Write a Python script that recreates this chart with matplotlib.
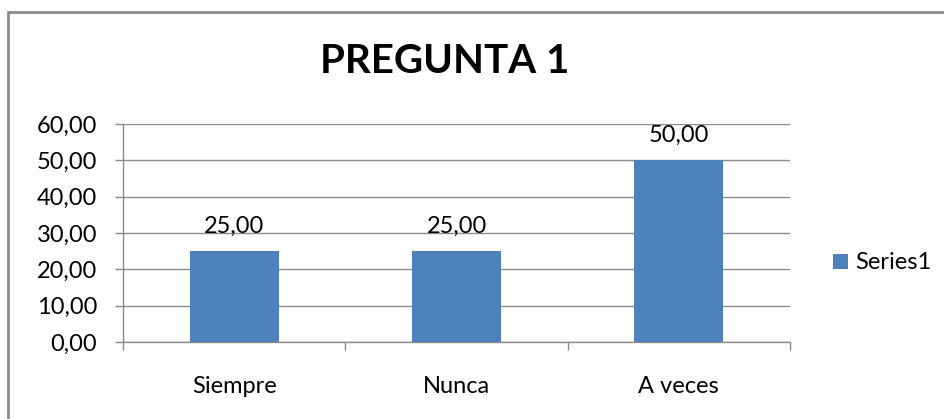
import matplotlib
matplotlib.use("Agg")
import matplotlib.pyplot as plt
from matplotlib.patches import Rectangle
import numpy as np

categories = ["Siempre", "Nunca", "A veces"]
values = [25.0, 25.0, 50.0]
yticks = [0, 10, 20, 30, 40, 50, 60]
title = "PREGUNTA 1"
series_name = "Series1"

plt.rcParams['font.family'] = ['Lato', 'DejaVu Sans']

W, H = 944, 419
PX = 72 / 100  # points per pixel
BAR = '#4F81BD'
fig = plt.figure(figsize=(W / 100, H / 100), dpi=100)

# outer chart border
fig.patches.append(Rectangle((8 / W, -0.05), 1.2, (H - 12) / H + 0.05, transform=fig.transFigure,
                             fill=False, edgecolor='#8c8c8c', linewidth=2.0))

ax = fig.add_axes([123 / W, 1 - 342 / H, (790 - 123) / W, (342 - 124) / H])
x = np.arange(len(categories))
ax.bar(x, values, width=0.4, color=BAR, zorder=3, label=series_name)

ax.set_xlim(-0.5, len(categories) - 0.5)
ax.set_ylim(0, 60)
ax.set_yticks(yticks)
ax.set_yticklabels([f"{v:.2f}".replace('.', ',') for v in yticks], fontsize=17)
ax.yaxis.grid(True, color='#8c8c8c', linewidth=1.0, zorder=0)
ax.tick_params(axis='y', length=8 * PX, width=1, color='#8c8c8c', pad=18 * PX, labelcolor='black')

# x-axis: ticks at category boundaries
ax.set_xticks(np.arange(len(categories) + 1) - 0.5)
ax.set_xticklabels([])
ax.tick_params(axis='x', length=8 * PX, width=1, color='#8c8c8c', direction='out')
for i, c in enumerate(categories):
    ax.annotate(c, (i, 0), xycoords=('data', 'axes fraction'), xytext=(0, -51 * PX),
                textcoords='offset points', ha='center', va='baseline', fontsize=17)

for s in ['top', 'right']:
    ax.spines[s].set_visible(False)
for s in ['left', 'bottom']:
    ax.spines[s].set_color('#8c8c8c')
    ax.spines[s].set_linewidth(1.0)

for xi, v in zip(x, values):
    ax.annotate(f"{v:.2f}".replace('.', ','), (xi, v), xytext=(0, 18.5 * PX), textcoords='offset points',
                ha='center', va='baseline', fontsize=17)

fig.text(445 / W, 1 - 73 / H, title, ha='center', va='baseline', fontsize=29, fontweight='bold')

# legend (placed explicitly)
fig.patches.append(Rectangle((833 / W, 1 - 269 / H), 15 / W, 15 / H, transform=fig.transFigure,
                             facecolor=BAR, edgecolor='none'))
fig.text(855 / W, 1 - 269 / H, series_name, ha='left', va='baseline', fontsize=17)

fig.savefig("out.png", dpi=100)
